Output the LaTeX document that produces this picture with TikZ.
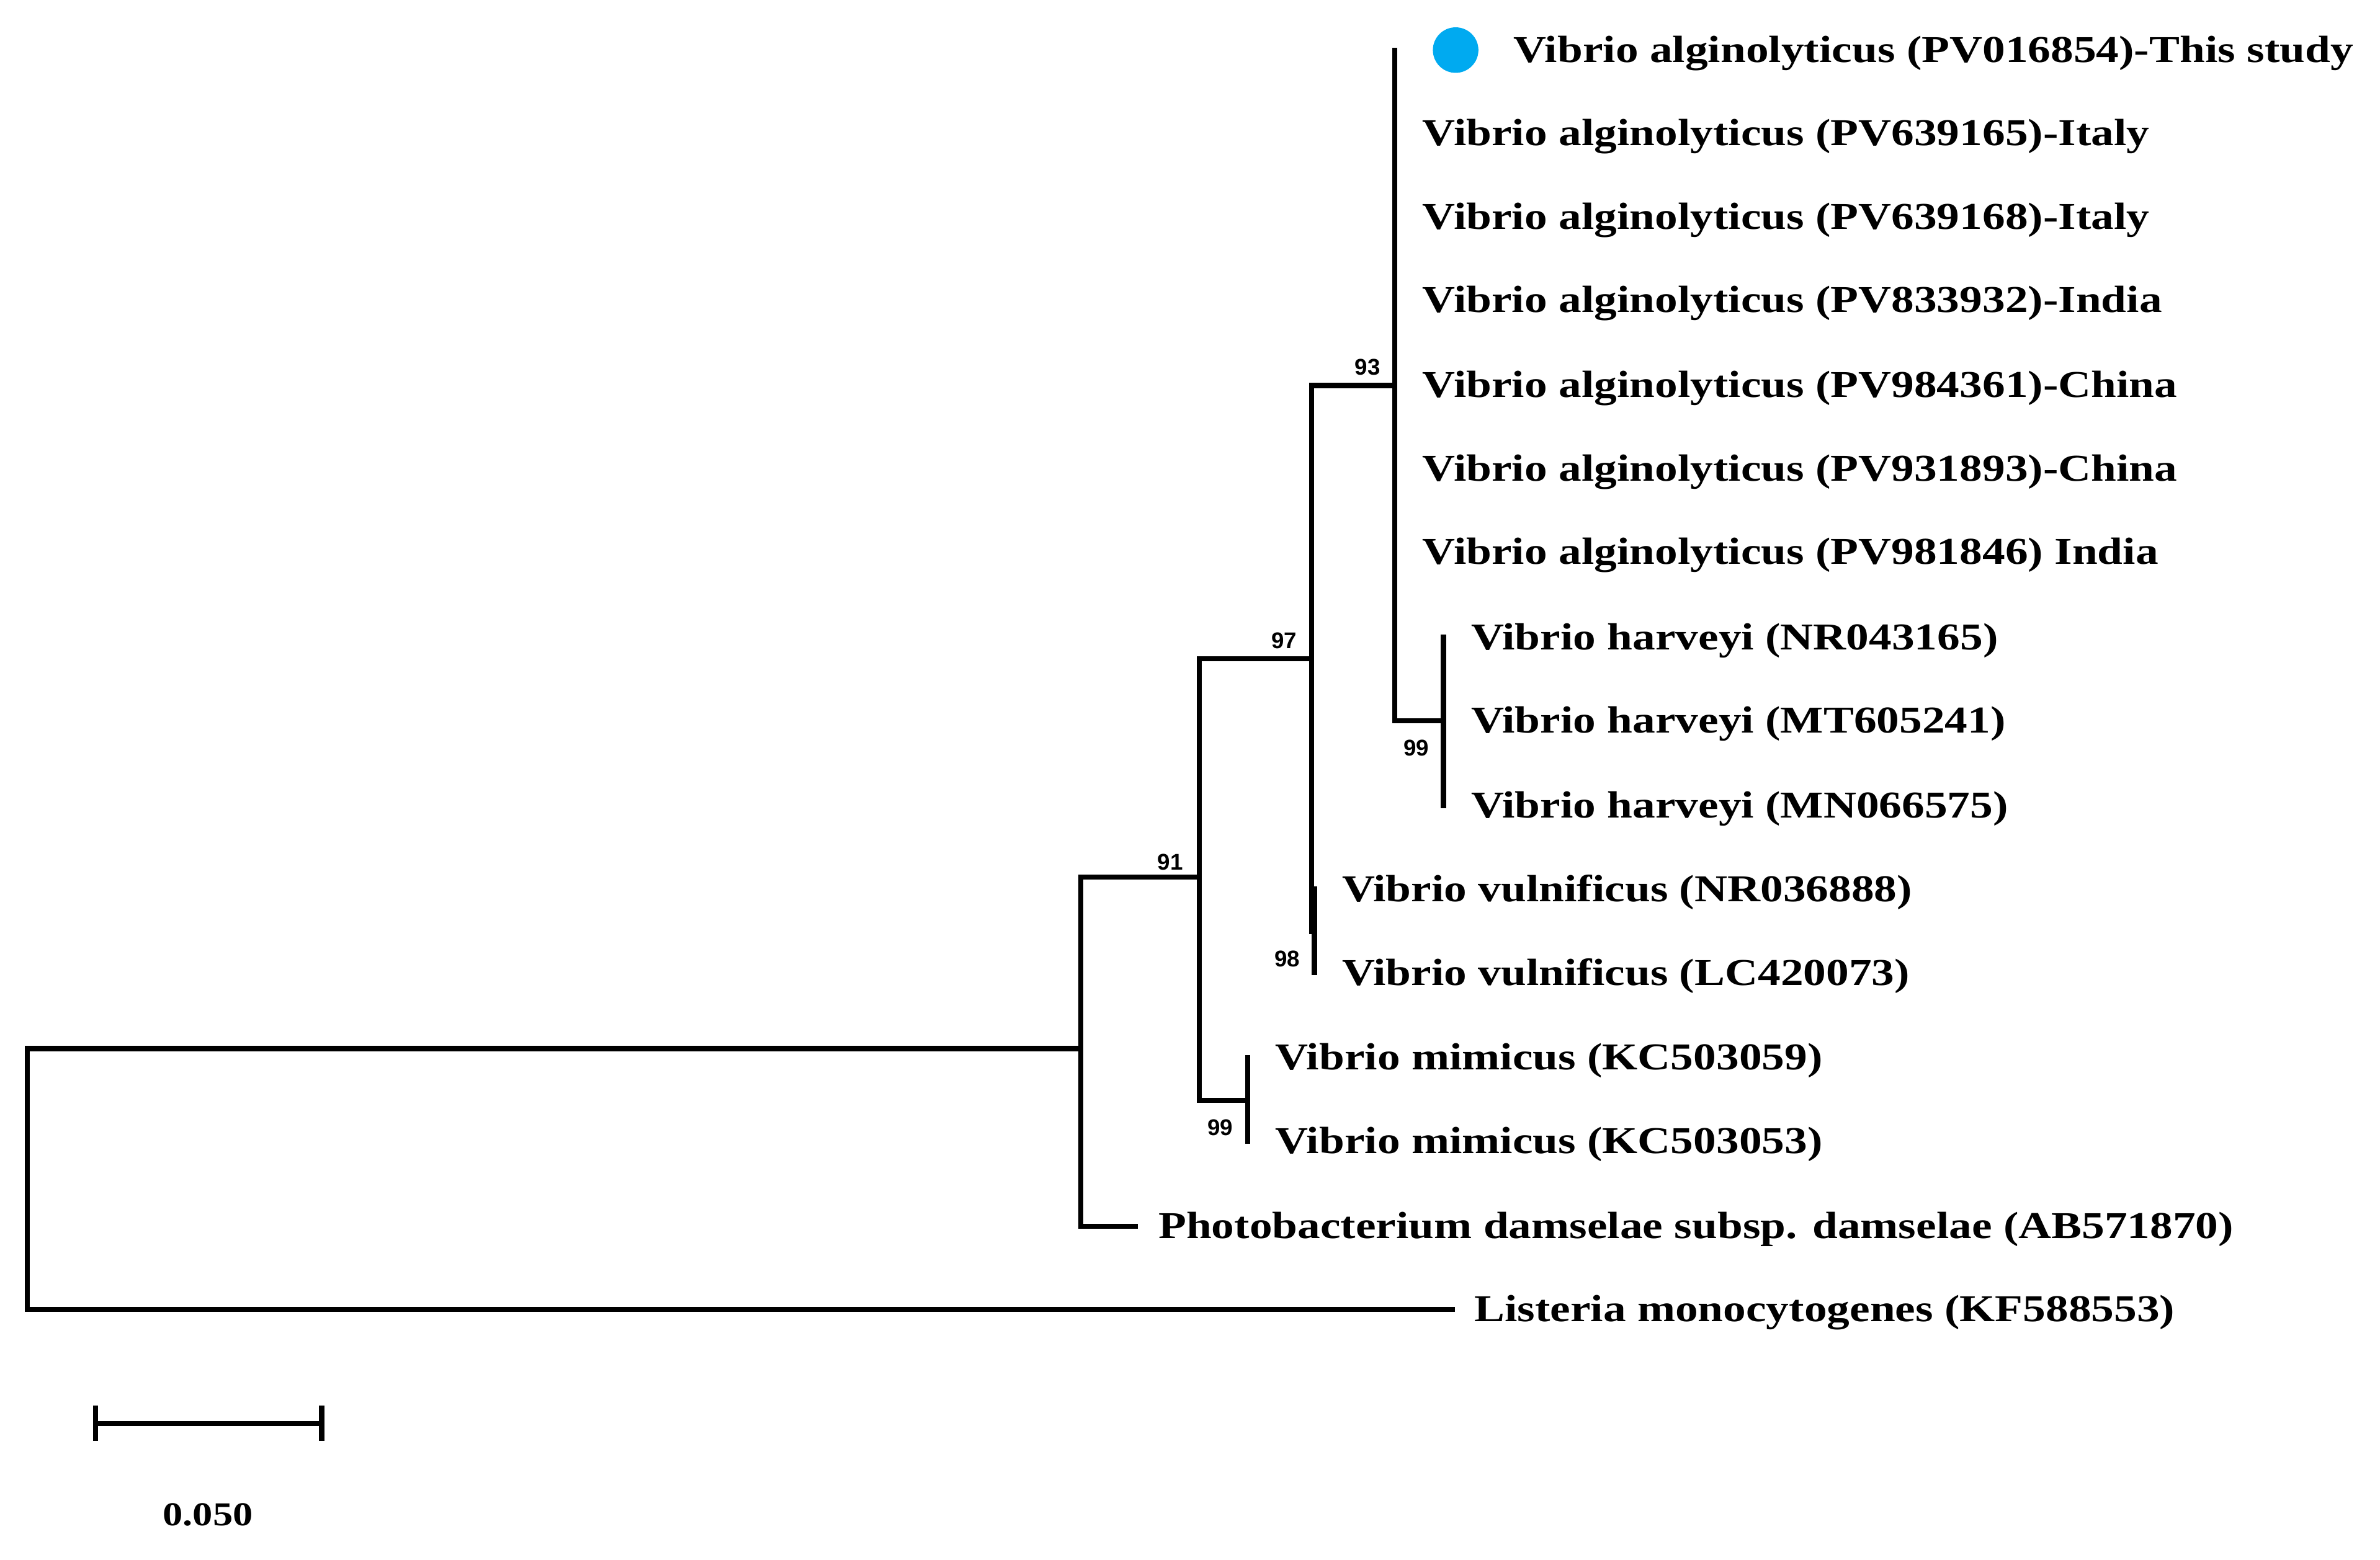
\documentclass[tikz,border=0pt]{standalone}
\usepackage{fontspec}
\setmainfont{Liberation Serif}
\newfontfamily\bsfont{Liberation Sans}
\begin{document}
\begin{tikzpicture}[x=1pt,y=-1pt,
  br/.style={line width=3.4pt,line cap=rect},
  lf/.style={anchor=west,inner sep=0pt,xscale=1.2,yshift=-2pt,font=\fontsize{25}{25}\selectfont\bfseries},
  bs/.style={inner sep=0pt,font=\fontsize{15}{15}\selectfont\bsfont\bfseries}]
\useasboundingbox (0,0) rectangle (1568,1028);
\coordinate (r) at (18,691);
\coordinate (n1) at (712,691);
\coordinate (n2) at (790,578);
\coordinate (n3) at (864,434);
\coordinate (n4) at (919,254);
\coordinate (n5) at (951,475);
\coordinate (n6) at (866,614);
\coordinate (n7) at (822,725);
\node[lf] (t1) at (997,33) {Vibrio alginolyticus (PV016854)-This study};
\node[lf] (t2) at (937,88) {Vibrio alginolyticus (PV639165)-Italy};
\node[lf] (t3) at (937,143) {Vibrio alginolyticus (PV639168)-Italy};
\node[lf] (t4) at (937,198) {Vibrio alginolyticus (PV833932)-India};
\node[lf] (t5) at (937,254) {Vibrio alginolyticus (PV984361)-China};
\node[lf] (t6) at (937,309) {Vibrio alginolyticus (PV931893)-China};
\node[lf] (t7) at (937,364) {Vibrio alginolyticus (PV981846) India};
\node[lf] (t8) at (969,420) {Vibrio harveyi (NR043165)};
\node[lf] (t9) at (969,475) {Vibrio harveyi (MT605241)};
\node[lf] (t10) at (969,531) {Vibrio harveyi (MN066575)};
\node[lf] (t11) at (884,586) {Vibrio vulnificus (NR036888)};
\node[lf] (t12) at (884,641) {Vibrio vulnificus (LC420073)};
\node[lf] (t13) at (840,697) {Vibrio mimicus (KC503059)};
\node[lf] (t14) at (840,752) {Vibrio mimicus (KC503053)};
\node[lf] (t15) at (763,808) {Photobacterium damselae subsp. damselae (AB571870)};
\node[lf] (t16) at (971,863) {Listeria monocytogenes (KF588553)};
\fill[fill={rgb,255:red,0;green,170;blue,240}] (959,33) circle (15);
\draw[br] (18,691) -- (18,863) -- (957,863);
\draw[br] (18,691) -- (n1);
\draw[br] (712,578) -- (712,808) -- (748,808);
\draw[br] (712,578) -- (n2);
\draw[br] (790,434) -- (790,725) -- (n7);
\draw[br] (790,434) -- (n3);
\draw[br] (822,697) -- (822,752);
\draw[br] (864,254) -- (864,614) -- (n6);
\draw[br] (866,586) -- (866,641);
\draw[br] (864,254) -- (n4);
\draw[br] (919,33) -- (919,475) -- (n5);
\draw[br] (951,420) -- (951,531);
\node[bs] (b91) at (771,568) {91};
\node[bs] (b99a) at (804,743) {99};
\node[bs] (b97) at (846,422) {97};
\node[bs] (b98) at (848,632) {98};
\node[bs] (b93) at (901,242) {93};
\node[bs] (b99b) at (933,493) {99};
\coordinate (s1) at (63,938);
\coordinate (s2) at (212,938);
\draw[br] (s1) -- (s2);
\draw[br] (63,928) -- (63,948);
\draw[br] (212,928) -- (212,948);
\node[inner sep=0pt,xscale=1.2,font=\fontsize{22}{22}\selectfont\bfseries] (sl) at (137,998) {0.050};
\end{tikzpicture}
\end{document}
